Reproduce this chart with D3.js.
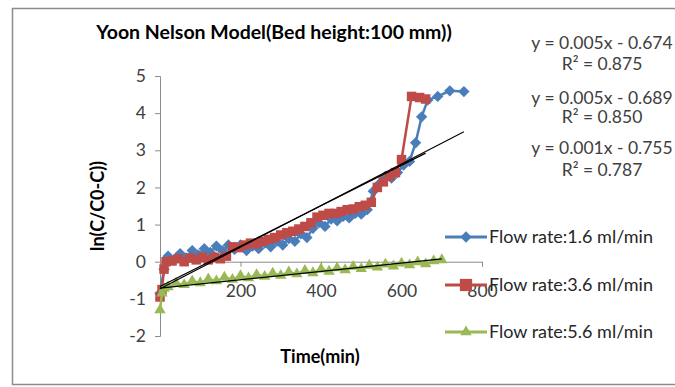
<!DOCTYPE html>
<html>
<head>
<meta charset="utf-8">
<script src="https://cdn.jsdelivr.net/npm/d3@7"></script>
<style>
  body { margin: 0; background: #fff; }
  text { font-family: Lato, "Open Sans", sans-serif; }
</style>
</head>
<body>
<script>
// series data
const blueTime = [0, 10, 20, 35, 50, 65, 80, 95, 110, 125, 140, 155, 170, 185, 200, 215, 230, 245, 260, 275, 290, 305, 320, 335, 350, 365, 380, 395, 410, 425, 440, 455, 470, 485, 500, 515, 530, 545, 560, 575, 590, 605, 620, 635, 650, 665, 690, 720, 755];
const blueVal = [-0.85, -0.2, 0.15, 0.05, 0.22, 0.1, 0.3, 0.18, 0.35, 0.25, 0.42, 0.3, 0.45, 0.33, 0.45, 0.3, 0.42, 0.35, 0.5, 0.4, 0.55, 0.45, 0.62, 0.55, 0.75, 0.65, 0.9, 1.05, 0.95, 1.15, 1.1, 1.22, 1.18, 1.3, 1.28, 1.4, 1.9, 2.1, 2.3, 2.25, 2.4, 2.6, 2.7, 3.2, 3.9, 4.35, 4.45, 4.6, 4.58];

const redTime = [0, 5, 10, 15, 30, 45, 60, 75, 90, 105, 120, 135, 150, 165, 180, 195, 210, 225, 240, 255, 270, 285, 300, 315, 330, 345, 360, 375, 390, 405, 420, 435, 450, 465, 480, 495, 510, 525, 540, 555, 570, 585, 600, 625, 645, 660];
const redVal = [-0.95, -0.75, -0.2, 0.0, 0.02, 0.08, 0.0, 0.1, 0.05, 0.12, 0.05, 0.12, 0.08, 0.15, 0.4, 0.38, 0.45, 0.5, 0.48, 0.55, 0.6, 0.65, 0.72, 0.78, 0.82, 0.88, 0.95, 1.05, 1.2, 1.25, 1.3, 1.3, 1.35, 1.4, 1.42, 1.48, 1.52, 1.6, 2.0, 2.15, 2.3, 2.4, 2.75, 4.45, 4.42, 4.38];

const greenTime = [0, 5, 10, 20, 40, 60, 80, 100, 120, 140, 160, 180, 200, 220, 240, 260, 280, 300, 320, 340, 360, 380, 400, 420, 440, 460, 480, 500, 520, 540, 560, 580, 600, 620, 640, 660, 680, 700];
const greenVal = [-1.3, -0.85, -0.72, -0.68, -0.58, -0.62, -0.52, -0.57, -0.47, -0.52, -0.42, -0.48, -0.38, -0.44, -0.35, -0.4, -0.31, -0.37, -0.28, -0.33, -0.24, -0.3, -0.2, -0.26, -0.17, -0.22, -0.13, -0.19, -0.1, -0.15, -0.07, -0.12, -0.04, -0.09, -0.01, -0.06, 0.02, 0.05];

const seriesNames = ["Flow rate:1.6 ml/min", "Flow rate:3.6 ml/min", "Flow rate:5.6 ml/min"];
const seriesColors = ["#4a7ebb", "#be4b48", "#98b954"];
const equations = [["y = 0.005x - 0.674", "R² = 0.875"], ["y = 0.005x - 0.689", "R² = 0.850"], ["y = 0.001x - 0.755", "R² = 0.787"]];
const xTicks = [0, 200, 400, 600, 800];
const yTicks = [-2, -1, 0, 1, 2, 3, 4, 5];

const W = 675, H = 387;
const svg = d3.select("body").append("svg").attr("width", W).attr("height", H);

svg.append("rect").attr("x", 12.5).attr("y", 8.5).attr("width", 680).attr("height", 376)
  .attr("fill", "#fff").attr("stroke", "#8c8c8c").attr("stroke-width", 1.5);

const x = d3.scaleLinear().domain([0, 800]).range([160, 482]);
const y = d3.scaleLinear().domain([-2, 5]).range([336, 76]);

// axes
const yAxis = svg.append("g").attr("transform", `translate(${x(0)},0)`)
  .call(d3.axisLeft(y).tickValues(yTicks).tickSize(5).tickPadding(9).tickFormat(d => String(d)));
const xAxis = svg.append("g").attr("transform", `translate(0,${y(0)})`)
  .call(d3.axisBottom(x).tickValues(xTicks).tickSize(5).tickFormat(d => d === 0 ? "" : String(d)));
[yAxis, xAxis].forEach(g => {
  g.selectAll("path,line").attr("stroke", "#8c8c8c").attr("stroke-width", 1);
  g.selectAll("text").attr("fill", "#404040").style("font-size", "17.5px");
});
xAxis.selectAll("text").attr("y", 23).attr("dy", "0.71em");

const series = [
  {t: blueTime, v: blueVal, sym: d3.symbolSquare, size: 64, rot: 45},
  {t: redTime, v: redVal, sym: d3.symbolSquare, size: 90, rot: 0},
  {t: greenTime, v: greenVal, sym: d3.symbolTriangle, size: 56, rot: 0}
];

const line = d3.line().x(d => x(d[0])).y(d => y(d[1]));

series.forEach((s, i) => {
  const pts = s.t.map((t, j) => [t, s.v[j]]);
  svg.append("path").datum(pts).attr("d", line)
    .attr("fill", "none").attr("stroke", seriesColors[i]).attr("stroke-width", 2.5);
  svg.append("g").selectAll("path").data(pts).join("path")
    .attr("d", d3.symbol(s.sym, s.size))
    .attr("transform", d => `translate(${x(d[0])},${y(d[1])}) rotate(${s.rot})`)
    .attr("fill", seriesColors[i]);
});

// linear trendlines, least squares on each series
function fit(xs, ys) {
  const mx = d3.mean(xs), my = d3.mean(ys);
  const b = d3.sum(xs, (xv, k) => (xv - mx) * (ys[k] - my)) / d3.sum(xs, xv => (xv - mx) ** 2);
  return [b, my - b * mx];
}
series.forEach(s => {
  const [b, a] = fit(s.t, s.v);
  const x0 = d3.min(s.t), x1 = d3.max(s.t);
  svg.append("path").datum([[x0, a + b * x0], [x1, a + b * x1]]).attr("d", line)
    .attr("fill", "none").attr("stroke", "#000").attr("stroke-width", 1.2);
});

// title and axis titles
svg.append("text").attr("x", 274).attr("y", 39).attr("text-anchor", "middle")
  .style("font-size", "19.5px").style("font-weight", "bold").attr("fill", "#000")
  .text("Yoon Nelson Model(Bed height:100 mm))");
svg.append("text").attr("transform", "translate(104,206) rotate(-90)").attr("text-anchor", "middle")
  .style("font-size", "18px").style("font-weight", "bold").attr("fill", "#000")
  .text("ln(C/C0-C))");
svg.append("text").attr("x", 320).attr("y", 363).attr("text-anchor", "middle")
  .style("font-size", "18px").style("font-weight", "bold").attr("fill", "#000")
  .text("Time(min)");

// trendline equations
const eqY = [[43, 64], [98, 117], [148, 170]];
equations.forEach((eq, i) => {
  eq.forEach((str, j) => {
    svg.append("text").attr("x", 602).attr("y", eqY[i][j]).attr("dy", "0.35em")
      .attr("text-anchor", "middle").style("font-size", "17.5px").attr("fill", "#404040")
      .text(str);
  });
});

// legend
const legY = [237, 285, 332];
series.forEach((s, i) => {
  const g = svg.append("g").attr("transform", `translate(0,${legY[i]})`);
  g.append("line").attr("x1", 445).attr("x2", 487).attr("stroke", seriesColors[i]).attr("stroke-width", 3);
  g.append("path").attr("d", d3.symbol(s.sym, i === 1 ? 150 : s.size))
    .attr("transform", `translate(466,0) rotate(${s.rot})`).attr("fill", seriesColors[i]);
  g.append("text").attr("x", 489).attr("dy", "0.35em").style("font-size", "18px").attr("fill", "#262626")
    .text(seriesNames[i]);
});
</script>
</body>
</html>
